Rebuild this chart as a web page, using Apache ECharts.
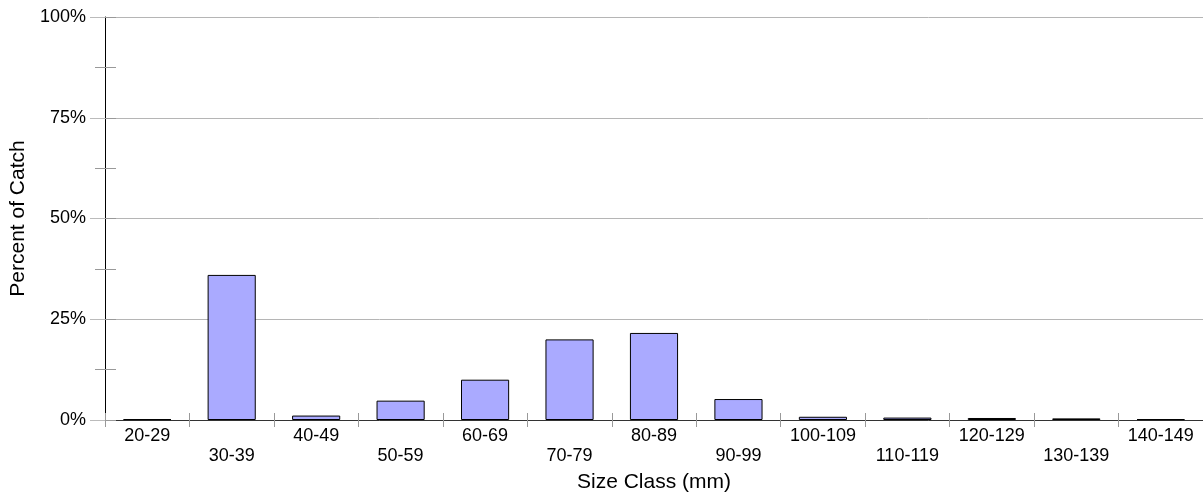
<!DOCTYPE html>
<html>
<head>
<meta charset="utf-8">
<script src="https://cdn.jsdelivr.net/npm/echarts@6/dist/echarts.min.js"></script>
<style>
html,body{margin:0;padding:0;background:#fff;}
#chart{width:1203px;height:499px;}
</style>
</head>
<body>
<div id="chart"></div>
<script>
const categories = ['20-29','30-39','40-49','50-59','60-69','70-79','80-89','90-99','100-109','110-119','120-129','130-139','140-149'];
const percentOfCatch = [0.2, 36, 1.1, 4.8, 10, 20, 21.6, 5.2, 0.8, 0.6, 0.5, 0.4, 0.2];
const yTicks = [0, 25, 50, 75, 100];
const yTitle = 'Percent of Catch';
const xTitle = 'Size Class (mm)';

const FONT = '"Liberation Sans", Arial, sans-serif';
const chart = echarts.init(document.getElementById('chart'), null, {renderer: 'canvas'});
chart.setOption({
  animation: false,
  backgroundColor: '#fff',
  grid: {left: 105, right: 0, top: 17, bottom: 79, containLabel: false, outerBoundsMode: 'none'},
  xAxis: [{
    type: 'category',
    data: categories,
    boundaryGap: true,
    name: xTitle,
    nameLocation: 'middle',
    nameGap: 52,
    nameTextStyle: {fontFamily: FONT, fontSize: 21, color: '#000'},
    axisLine: {show: true, lineStyle: {color: '#333', width: 1}},
    axisTick: {show: true, length: 7, alignWithLabel: false, lineStyle: {color: '#999'}},
    axisLabel: {
      interval: 0, margin: 6, fontFamily: FONT, fontSize: 18, color: '#000', lineHeight: 20,
      formatter: function (v, i) { return i % 2 ? '\n' + v : v; }
    },
    splitLine: {show: false}
  }, {
    type: 'category',
    data: categories,
    position: 'bottom',
    axisLine: {show: false},
    axisTick: {show: true, inside: true, length: 7, lineStyle: {color: '#999'}},
    axisLabel: {show: false},
    splitLine: {show: false}
  }],
  yAxis: [{
    type: 'value',
    min: yTicks[0], max: yTicks[yTicks.length - 1], interval: 25,
    name: yTitle,
    nameLocation: 'middle',
    nameGap: 74,
    nameTextStyle: {fontFamily: FONT, fontSize: 21, color: '#000'},
    axisLine: {show: true, lineStyle: {color: '#000', width: 1}},
    axisTick: {show: true, length: 15, lineStyle: {color: '#bbb'}},
    minorTick: {show: true, splitNumber: 2, length: 10, lineStyle: {color: '#999'}},
    axisLabel: {margin: 19, fontFamily: FONT, fontSize: 18, color: '#000', formatter: '{value}%'},
    splitLine: {show: true, lineStyle: {color: '#b5b5b5', width: 1}}
  }, {
    type: 'value',
    position: 'left',
    min: 0, max: 100, interval: 12.5,
    axisLine: {show: false},
    axisTick: {show: true, inside: true, length: 11, lineStyle: {color: '#999'}},
    axisLabel: {show: false},
    splitLine: {show: false}
  }],
  series: [{
    type: 'bar',
    data: percentOfCatch,
    xAxisIndex: 0,
    yAxisIndex: 0,
    barCategoryGap: '43%',
    itemStyle: {color: '#aaaaff', borderColor: '#000', borderWidth: 1}
  }]
});
</script>
</body>
</html>
